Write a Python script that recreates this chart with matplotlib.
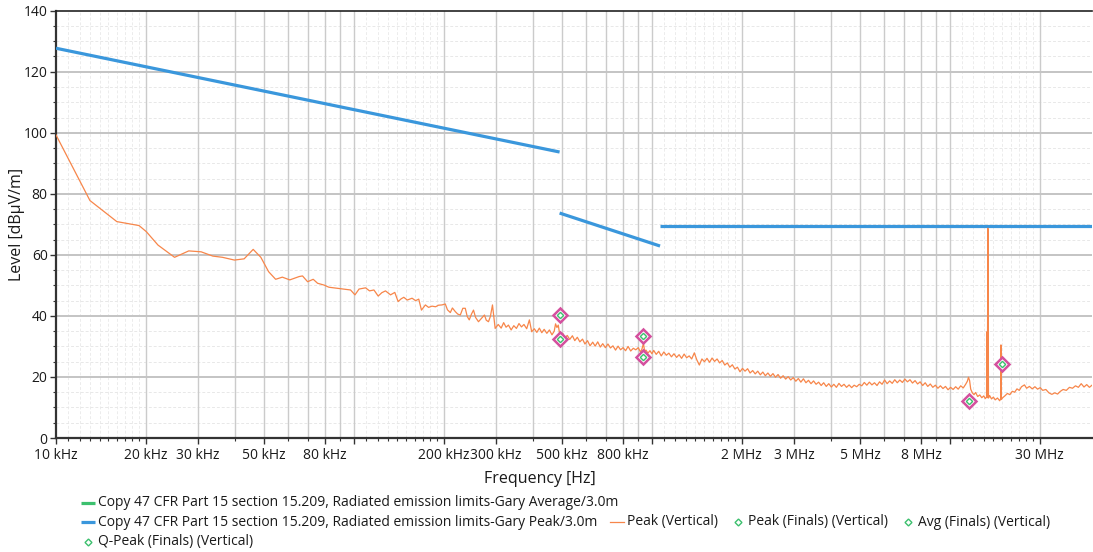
import matplotlib
matplotlib.use("Agg")
import matplotlib.pyplot as plt
from matplotlib.lines import Line2D
from matplotlib.transforms import IdentityTransform

plt.rcParams["font.family"] = ["Open Sans", "DejaVu Sans"]

# Limit lines (Peak/3.0m) - frequency in kHz, level in dBuV/m
limit_seg1_khz = [10, 490]
limit_seg1_db = [127.7, 93.7]
limit_seg2_khz = [490, 1065]
limit_seg2_db = [73.7, 62.9]
limit_seg3_khz = [1065, 30000]
limit_seg3_db = [69.5, 69.5]

# Finals (markers)
peak_finals_khz = [490, 937, 15000]
peak_finals_db = [40.3, 33.4, 24.1]
avg_finals_khz = [490, 937, 11570]
avg_finals_db = [32.4, 26.6, 12.0]
qpeak_finals_khz = []
qpeak_finals_db = []

# Peak (Vertical) sweep trace
trace_khz = [
    10.0, 13.0, 16.0, 19.0, 20.1, 22.0, 25.0, 27.9, 30.7, 33.6, 36.2, 39.7, 42.8, 45.9,
    48.7, 51.7, 54.6, 57.5, 60.9, 65.5, 67.2, 69.9, 73.0, 75.5, 79.4, 82.4, 89.0, 97.4,
    100.8, 104, 109.4, 112.8, 116.7, 120.6, 124, 127.6, 132.7, 137.1, 140.7, 144, 147, 151,
    156.7, 161, 165, 168.5, 173.7, 178, 182.8, 188, 192, 197.4, 202.6, 206, 210.6, 214,
    218.9, 223, 227.5, 232, 236.4, 240, 243.8, 248, 251.9, 256, 261.8, 268, 274.2, 278,
    282.8, 287, 291.7, 297.8,
    305, 312, 318, 324, 330, 337, 344, 351, 358, 365, 372, 380, 388, 395, 403, 411, 419,
    427, 435, 444, 453, 462, 470, 475, 480, 485, 490, 495, 502, 510, 520, 530, 541, 551,
    562, 573, 585, 596, 608, 620, 633, 645, 658, 671, 684, 698, 712, 726, 740, 755, 770,
    785, 800, 816, 832, 849, 866, 883, 900, 915, 925, 937, 945, 955, 970, 985, 1000, 1014,
    1034, 1054, 1075, 1097, 1118, 1140, 1163, 1186, 1210, 1234, 1258, 1283, 1308, 1334,
    1360, 1388, 1415, 1443, 1472, 1501, 1531, 1561, 1592, 1623, 1655, 1688, 1722, 1756,
    1791, 1826, 1862, 1899, 1937, 1975, 2014, 2054, 2095, 2136, 2179, 2222, 2266, 2311,
    2357, 2403, 2451, 2499, 2549, 2599, 2651, 2703, 2757, 2811, 2867, 2924, 2982, 3041,
    3101, 3162, 3225, 3289, 3354, 3420, 3488, 3557, 3627, 3699, 3772, 3847, 3923, 4001,
    4080, 4161, 4244, 4328, 4414, 4501, 4590, 4681, 4774, 4868, 4965, 5063, 5163, 5265,
    5369, 5476, 5584, 5695, 5808, 5923, 6040, 6160, 6282, 6406, 6533, 6662, 6794, 6929,
    7066, 7206, 7349, 7494, 7643, 7794, 7948, 8106, 8266, 8430, 8597, 8767, 8941, 9118,
    9299, 9482, 9670, 9862, 10057, 10256, 10460, 10666, 10878, 11093, 11300, 11450, 11548,
    11650, 11750, 11900, 12050, 12200, 12400, 12600, 12800, 13000, 13150, 13280, 13320,
    13360, 13420, 13480, 13600, 13800, 14000, 14200, 14450, 14700, 14830, 14844, 14870,
    15050, 15300, 15600, 15900, 16200, 16500, 16800, 17100, 17400, 17800, 18100, 18500,
    18900, 19300, 19700, 20100, 20500, 21000, 21500, 22000, 22500, 23000, 23500, 24000,
    24600, 25200, 25800, 26400, 27000, 27600, 28200, 28800, 29400, 30000,
]
trace_db = [
    99.3, 77.8, 70.9, 69.6, 67.6, 63.2, 59.2, 61.3, 61.0, 59.6, 59.2, 58.3, 58.7, 61.8,
    59.2, 54.5, 52.0, 52.7, 51.8, 52.9, 53.1, 51.2, 52.0, 50.7, 50.1, 49.4, 49.0, 48.5,
    46.9, 48.8, 49.2, 48.2, 48.5, 46.5, 47.6, 48.2, 46.9, 47.7, 44.7, 45.6, 46.1, 45.2,
    45.8, 45.0, 45.5, 41.9, 43.6, 42.8, 43.2, 43.0, 43.5, 43.6, 43.9, 42.0, 41.1, 42.6,
    41.4, 40.6, 40.3, 42.5, 42.5, 39.8, 38.7, 40.6, 41.9, 39.5, 38.1, 39.2, 40.3, 38.6,
    38.1, 39.8, 43.6, 35.9,
    37.2, 36.0, 37.8, 36.3, 37.0, 35.4, 36.8, 35.9, 37.5, 36.4, 37.2, 35.8, 38.7, 34.8,
    35.8, 34.6, 36.0, 34.5, 35.6, 34.3, 35.4, 33.8, 35.0, 37.4, 36.2, 37.0, 34.2, 33.2,
    34.3, 32.8, 33.6, 32.3, 33.5, 31.9, 33.0, 31.5, 32.4, 30.8, 31.9, 30.2, 31.4, 30.1,
    31.5, 29.8, 30.9, 29.6, 30.8, 29.5, 30.2, 28.8, 30.1, 28.9, 29.6, 28.6, 30.0, 28.5,
    29.4, 28.9, 29.6, 28.2, 29.0, 31.0, 28.5, 28.8, 27.8, 28.6, 27.6, 28.7, 27.4, 28.4,
    26.9, 28.2, 27.1, 27.8, 26.6, 27.6, 26.4, 27.3, 26.1, 27.5, 26.3, 26.9, 25.9, 27.9,
    25.6, 23.9, 25.9, 25.0, 26.1, 24.8, 26.2, 25.1, 25.9, 24.6, 25.4, 23.9, 24.6, 23.2,
    24.0, 22.6, 23.2, 21.7, 22.8, 21.9, 22.7, 21.3, 22.1, 21.0, 21.9, 20.7, 21.6, 20.4,
    21.3, 20.2, 21.1, 19.9, 20.8, 19.6, 20.4, 19.3, 20.1, 19.0, 19.8, 18.6, 19.5, 18.3,
    19.4, 18.1, 18.9, 17.8, 18.7, 17.6, 18.3, 17.2, 18.1, 16.9, 17.8, 16.7, 17.6, 16.6,
    17.9, 16.9, 17.6, 16.6, 17.4, 16.5, 17.3, 16.8, 17.6, 17.1, 18.2, 17.3, 18.3, 17.4,
    18.1, 17.2, 18.4, 17.6, 19.0, 17.8, 18.7, 17.9, 19.1, 18.1, 19.0, 18.2, 19.3, 18.4,
    19.1, 18.0, 18.8, 17.7, 18.4, 17.2, 18.1, 16.9, 17.7, 16.6, 17.3, 16.3, 17.1, 16.2,
    16.9, 15.8, 16.6, 15.9, 16.8, 16.0, 17.1, 16.4, 17.6, 18.6, 19.9, 18.8, 16.0, 14.8,
    14.2, 14.9, 13.6, 14.1, 13.2, 13.8, 12.9, 13.4, 34.8, 13.2, 68.7, 13.1, 13.9, 12.8,
    13.4, 12.5, 13.1, 12.2, 13.0, 30.5, 12.6, 13.2, 13.8, 14.6, 14.2, 15.3, 15.0, 16.1,
    15.6, 16.8, 17.4, 16.3, 16.9, 16.1, 16.8, 16.0, 16.5, 15.6, 15.9, 14.8, 14.3, 14.8,
    14.4, 15.3, 15.9, 15.6, 16.6, 16.3, 17.1, 16.6, 17.8, 16.7, 17.5, 16.6, 17.3,
]

# Axis ticks
xtick_hz = [1e4, 2e4, 3e4, 5e4, 8e4, 1e5, 2e5, 3e5, 5e5, 8e5, 1e6, 2e6, 3e6, 5e6, 8e6, 1e7, 2e7]
xtick_labels = ["10 kHz", "20 kHz", "30 kHz", "50 kHz", "80 kHz", "", "200 kHz", "300 kHz",
                "500 kHz", "800 kHz", "", "2 MHz", "3 MHz", "5 MHz", "8 MHz", "", "30 MHz"]
ytick_vals = [0, 20, 40, 60, 80, 100, 120, 140]

legend_labels = [
    "Copy 47 CFR Part 15 section 15.209, Radiated emission limits-Gary Average/3.0m",
    "Copy 47 CFR Part 15 section 15.209, Radiated emission limits-Gary Peak/3.0m",
    "Peak (Vertical)",
    "Peak (Finals) (Vertical)",
    "Avg (Finals) (Vertical)",
    "Q-Peak (Finals) (Vertical)",
]

BLUE = "#3a97dc"
ORANGE = "#f7864a"
GREEN = "#3cc06e"
PINK = "#d4509e"

W, H = 1093, 552
fig = plt.figure(figsize=(W / 100, H / 100), dpi=100)
ax = fig.add_axes([56 / W, 1 - 438 / H, (1092 - 56) / W, (438 - 10.7) / H])

ax.set_xscale("log")
ax.set_xlim(1e4, 3e7)
ax.set_ylim(0, 140)

# Grid lines
for k in range(4, 8):
    for m in range(1, 10):
        f = m * 10 ** k
        if 1e4 < f < 3e7:
            ax.axvline(f, color="#cbcbcb", lw=1.0, zorder=1)
    for s in range(1, 10):
        f = (1 + s / 10) * 10 ** k
        if f < 3e7:
            ax.axvline(f, color="#ececec", lw=0.7, ls=(0, (3, 2)), zorder=0.9)
for v in range(5, 140, 5):
    if v % 20 == 0:
        ax.axhline(v, color="#c4c4c4", lw=1.4, zorder=1)
    else:
        ax.axhline(v, color="#e8e8e8", lw=0.7, ls=(0, (3, 2)), zorder=0.9)

# Limit lines
for fx, lv in [(limit_seg1_khz, limit_seg1_db), (limit_seg2_khz, limit_seg2_db),
               (limit_seg3_khz, limit_seg3_db)]:
    ax.plot([f * 1e3 for f in fx], lv, color=BLUE, lw=2.3, solid_capstyle="butt", zorder=3)

# Trace
ax.plot([f * 1e3 for f in trace_khz], trace_db, color=ORANGE, lw=0.9, zorder=4)

# Finals markers
for fx, lv in [(peak_finals_khz, peak_finals_db), (avg_finals_khz, avg_finals_db),
               (qpeak_finals_khz, qpeak_finals_db)]:
    if not fx:
        continue
    xs = [f * 1e3 for f in fx]
    ax.plot(xs, lv, ls="none", marker="D", ms=7.5, mfc="white", mec=PINK, mew=1.8, zorder=5)
    ax.plot(xs, lv, ls="none", marker="D", ms=3.2, mfc="white", mec=GREEN, mew=1.0, zorder=6)

# Ticks
ax.set_xticks(xtick_hz)
ax.set_xticklabels(xtick_labels)
minor_x = []
for k in range(4, 8):
    for m in range(2, 10):
        f = m * 10 ** k
        if f < 3e7 and f not in xtick_hz:
            minor_x.append(f)
    for s in range(1, 10):
        f = (1 + s / 10) * 10 ** k
        if f < 3e7:
            minor_x.append(f)
ax.set_xticks(minor_x, minor=True)
ax.xaxis.set_minor_formatter(plt.NullFormatter())
ax.set_yticks(ytick_vals)
ax.set_yticks(range(5, 140, 5), minor=True)
ax.tick_params(axis="both", which="major", direction="out", length=4, width=1,
               color="#333333", labelsize=10, labelcolor="#1a1a1a")
ax.tick_params(axis="both", which="minor", direction="out", length=2.5, width=0.8,
               color="#333333")
ax.tick_params(axis="x", which="major", pad=3)
ax.tick_params(axis="y", which="major", pad=2)

# Spines
ax.spines["right"].set_visible(False)
ax.spines["left"].set_color("#333333")
ax.spines["left"].set_linewidth(1.6)
ax.spines["bottom"].set_color("#333333")
ax.spines["bottom"].set_linewidth(1.6)
ax.spines["top"].set_color("#222222")
ax.spines["top"].set_linewidth(1.2)

# Axis labels
ax.set_xlabel("Frequency [Hz]", fontsize=11.5, color="#1a1a1a")
ax.xaxis.set_label_coords((540 - 56) / 1036, (438 - 471) / 427.3)
ax.xaxis.label.set_va("top")
ax.set_ylabel("Level [dBµV/m]", fontsize=11.5, color="#1a1a1a")
ax.yaxis.set_label_coords((25 - 56) / 1036, 0.5)

# Legend (flow layout under the plot)
fig.canvas.draw()
renderer = fig.canvas.get_renderer()


def legend_item(x, y_img, kind, color, label):
    y = H - y_img
    if kind == "thick":
        fig.add_artist(Line2D([x, x + 14], [y, y], transform=IdentityTransform(),
                              color=color, lw=2.3, solid_capstyle="butt"))
    elif kind == "thin":
        fig.add_artist(Line2D([x, x + 14], [y, y], transform=IdentityTransform(),
                              color=color, lw=0.9))
    else:
        fig.add_artist(Line2D([x + 6.5], [y], transform=IdentityTransform(), ls="none",
                              marker="D", ms=3.5, mfc="white", mec=color, mew=1.0))
    t = fig.text(x + 17, y, label, transform=IdentityTransform(), va="center", ha="left",
                 fontsize=10, color="#1a1a1a")
    return x + 17 + t.get_window_extent(renderer).width + 13


legend_item(81, 503, "thick", GREEN, legend_labels[0])
x = legend_item(81, 522, "thick", BLUE, legend_labels[1])
x = legend_item(x, 522, "thin", ORANGE, legend_labels[2])
x = legend_item(x, 522, "marker", GREEN, legend_labels[3])
x = legend_item(x, 522, "marker", GREEN, legend_labels[4])
legend_item(81, 542, "marker", GREEN, legend_labels[5])

fig.savefig("out.png", dpi=100)
